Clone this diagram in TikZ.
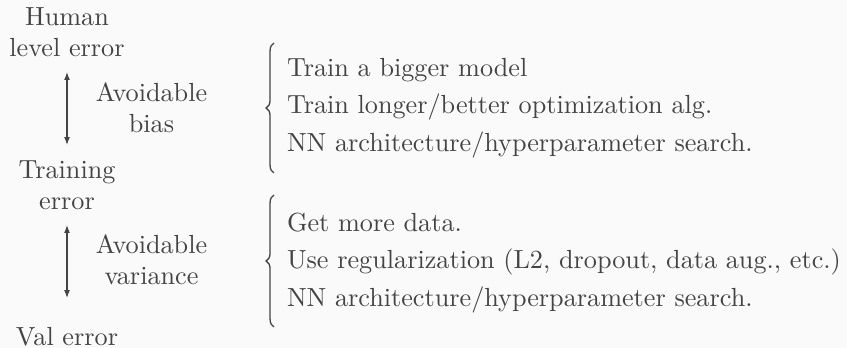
\documentclass[tikz,border=0pt]{standalone}
\usetikzlibrary{arrows.meta,decorations.pathreplacing}
\definecolor{bgc}{RGB}{250,250,250}
\definecolor{ink}{RGB}{68,68,68}
\begin{document}
\begin{tikzpicture}[x=0.3817pt,y=-0.3817pt,
  every node/.style={inner sep=0pt,outer sep=0pt,text=ink},
  lab/.style={align=center,anchor=base,font=\fontsize{10}{12}\selectfont},
  item/.style={align=left,anchor=base west,font=\fontsize{10}{14.4}\selectfont},
  dbl/.style={draw=ink,line width=0.4pt,{Latex[length=3pt,width=2.2pt]}-{Latex[length=3pt,width=2.2pt]}},
  brc/.style={draw=ink,line width=0.5pt,decorate,decoration={brace,amplitude=3pt}}]
\fill[bgc] (0,0) rectangle (847,348);
\useasboundingbox (0,0) rectangle (847,348);
% base anchor of a multi-line node = baseline of its last line
\node[lab] (hum) at (67,57) {Human\\level error};
\node[lab] (tr) at (67,210) {Training\\error};
\node[lab] (val) at (67,345.5) {Val error};
\node[lab] (ab) at (151.5,132.7) {Avoidable\\bias};
\node[lab] (av) at (151.5,285) {Avoidable\\variance};
\coordinate (a1s) at (67,72);
\coordinate (a1e) at (67,145);
\coordinate (a2s) at (67,225);
\coordinate (a2e) at (67,298);
\draw[dbl] (a1s) -- (a1e);
\draw[dbl] (a2s) -- (a2e);
\coordinate (b1b) at (274,173);
\coordinate (b1t) at (274,43);
\coordinate (b2b) at (274,327);
\coordinate (b2t) at (274,195);
\draw[brc] (b1b) -- (b1t);
\draw[brc] (b2b) -- (b2t);
\node[item] (l1) at (287,151.7) {Train a bigger model\\Train longer/better optimization alg.\\NN architecture/hyperparameter search.};
\node[item] (l2) at (287,306.7) {Get more data.\\Use regularization (L2, dropout, data aug., etc.)\\NN architecture/hyperparameter search.};
\end{tikzpicture}
\end{document}
